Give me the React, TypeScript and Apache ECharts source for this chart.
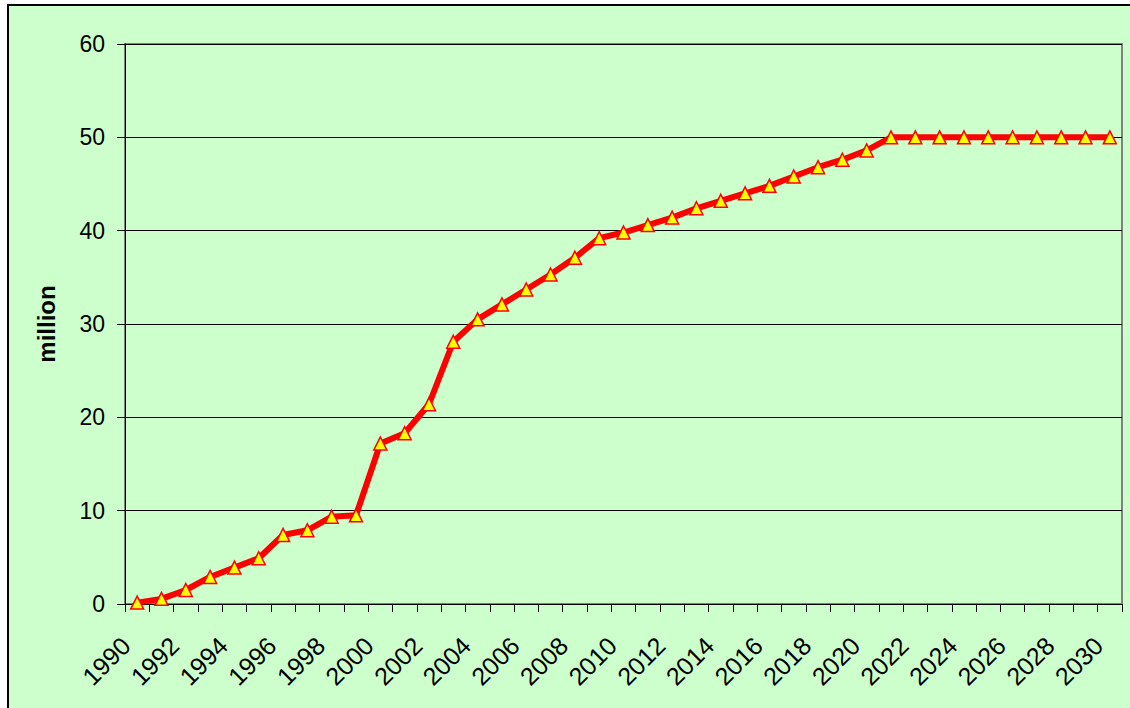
import React, { useEffect, useRef } from "react";
import * as echarts from "echarts";

const years: string[] = [];
for (let y = 1990; y <= 2030; y++) years.push(String(y));

const values: number[] = [
  0.15, 0.55, 1.5, 2.9, 3.9, 4.9, 7.4, 7.9, 9.35, 9.5,
  17.2, 18.3, 21.4, 28.1, 30.5, 32.1, 33.7, 35.3, 37.1, 39.2,
  39.8, 40.6, 41.4, 42.4, 43.2, 44.0, 44.8, 45.8, 46.8, 47.6,
  48.6, 50, 50, 50, 50, 50, 50, 50, 50, 50, 50,
];

const yAxisName = "million";

export default function App() {
  const ref = useRef<HTMLDivElement>(null);
  useEffect(() => {
    if (!ref.current) return;
    const chart = echarts.init(ref.current, null, { renderer: "svg" });
    chart.setOption({
      animation: false,
      backgroundColor: "#ffffff",
      textStyle: { fontFamily: "Liberation Sans, Arial, sans-serif" },
      graphic: [
        {
          type: "rect",
          z: -10,
          silent: true,
          shape: { x: 8, y: 5, width: 1130, height: 710 },
          style: { fill: "#CCFFCC", stroke: "#000000", lineWidth: 2 },
        },
      ],
      grid: {
        left: 125,
        top: 44,
        right: 8,
        bottom: 104,
        show: true,
        borderColor: "#808080",
        borderWidth: 2,
        backgroundColor: "transparent",
      },
      xAxis: {
        type: "category",
        data: years,
        boundaryGap: true,
        axisLine: { lineStyle: { color: "#000000", width: 1 } },
        axisTick: { show: true, interval: 0, length: 8, lineStyle: { color: "#000000" } },
        axisLabel: {
          interval: 1,
          rotate: 45,
          margin: 26,
          padding: [0, 16, 0, 0],
          fontSize: 25,
          color: "#000000",
          fontFamily: "Liberation Sans, Arial, sans-serif",
        },
        splitLine: { show: false },
      },
      yAxis: {
        type: "value",
        min: 0,
        max: 60,
        interval: 10,
        name: yAxisName,
        nameLocation: "middle",
        nameRotate: 90,
        nameGap: 67,
        nameTextStyle: {
          fontSize: 24,
          fontWeight: "bold",
          color: "#000000",
          fontFamily: "Liberation Sans, Arial, sans-serif",
        },
        axisLine: { show: true, lineStyle: { color: "#000000", width: 1 } },
        axisTick: { show: true, length: 8, lineStyle: { color: "#000000" } },
        axisLabel: {
          margin: 20,
          fontSize: 23,
          color: "#000000",
          fontFamily: "Liberation Sans, Arial, sans-serif",
        },
        splitLine: { show: true, lineStyle: { color: "#000000", width: 1 } },
      },
      series: [
        {
          type: "line",
          data: values,
          lineStyle: { color: "#FF0000", width: 6 },
          symbol: "triangle",
          symbolSize: 13,
          itemStyle: { color: "#FFFF00", borderColor: "#FF0000", borderWidth: 1.5 },
          z: 5,
        },
      ],
    });
    return () => chart.dispose();
  }, []);
  return (
    <div
      ref={ref}
      style={{ position: "fixed", left: 0, top: 0, width: 1130, height: 708 }}
    />
  );
}
